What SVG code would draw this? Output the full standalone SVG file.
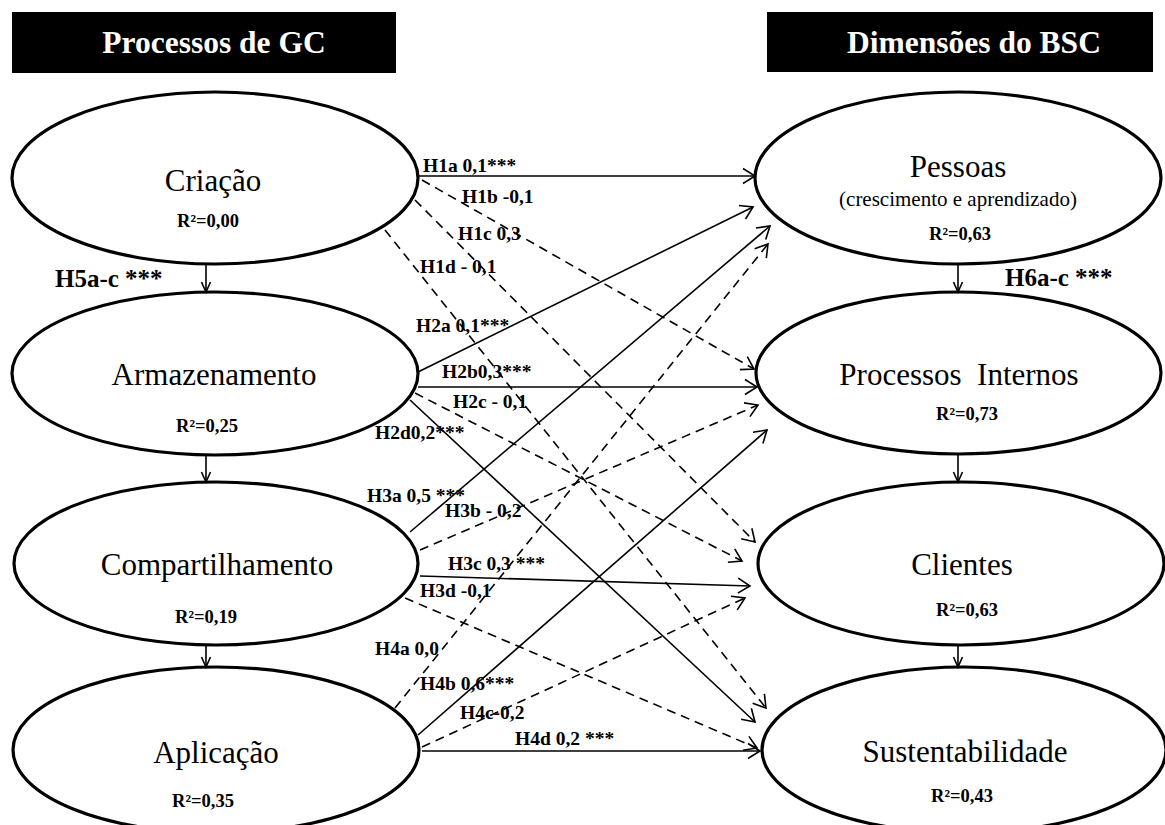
<svg xmlns="http://www.w3.org/2000/svg" width="1165" height="825" viewBox="0 0 1165 825">
  <style>
    text { font-family: "Liberation Serif", "Times New Roman", serif; fill: #000; }
    .head { fill: #000; }
    .head-t { font-size: 31.5px; font-weight: bold; fill: #fff; text-anchor: middle; }
    .node { fill: #fff; stroke: #000; stroke-width: 3.2; }
    .name { font-size: 31px; text-anchor: middle; }
    .sub { font-size: 21px; text-anchor: middle; }
    .r2 { font-size: 18.5px; font-weight: bold; text-anchor: middle; }
    .lbl { font-size: 19.5px; font-weight: bold; }
    .big { font-size: 25px; font-weight: bold; }
    .edge { fill: none; stroke: #000; stroke-width: 1.6; marker-end: url(#arrow); }
    .dash { stroke-dasharray: 9 6; }
    .chain { fill: none; stroke: #000; stroke-width: 1.6; marker-end: url(#small); }
  </style>
  <defs>
    <marker id="arrow" markerUnits="userSpaceOnUse" markerWidth="16" markerHeight="18" refX="12" refY="7.5" orient="auto" overflow="visible">
      <path d="M0,0 L12,7.5 L0,15" fill="none" stroke="#000" stroke-width="1.6"/>
    </marker>
    <marker id="small" markerUnits="userSpaceOnUse" markerWidth="12" markerHeight="12" refX="10" refY="4.5" orient="auto" overflow="visible">
      <path d="M0,0 L10,4.5 L0,9" fill="none" stroke="#000" stroke-width="1.6"/>
    </marker>
  </defs>

  <rect width="1165" height="825" fill="#fff"/>

  <!-- column headers -->
  <g id="header-gc">
    <rect class="head" x="12" y="12" width="384" height="61"/>
    <text class="head-t" x="214" y="53">Processos de GC</text>
  </g>
  <g id="header-bsc">
    <rect class="head" x="767" y="12" width="386" height="60"/>
    <text class="head-t" x="974" y="53">Dimensões do BSC</text>
  </g>

  <!-- knowledge management processes -->
  <g id="criacao">
    <ellipse class="node" cx="215" cy="178" rx="203" ry="86"/>
    <text class="name" x="213" y="191">Criação</text>
    <text class="r2" x="208" y="227">R²=0,00</text>
  </g>
  <g id="armazenamento">
    <ellipse class="node" cx="215" cy="373.5" rx="203" ry="81.5"/>
    <text class="name" x="214" y="385">Armazenamento</text>
    <text class="r2" x="207" y="432">R²=0,25</text>
  </g>
  <g id="compartilhamento">
    <ellipse class="node" cx="216" cy="563.5" rx="202" ry="81.5"/>
    <text class="name" x="217" y="575">Compartilhamento</text>
    <text class="r2" x="206" y="623">R²=0,19</text>
  </g>
  <g id="aplicacao">
    <ellipse class="node" cx="216" cy="750" rx="203" ry="83"/>
    <text class="name" x="216" y="763">Aplicação</text>
    <text class="r2" x="203" y="807">R²=0,35</text>
  </g>

  <!-- BSC dimensions -->
  <g id="pessoas">
    <ellipse class="node" cx="958" cy="178" rx="203" ry="86"/>
    <text class="name" x="958" y="177">Pessoas</text>
    <text class="sub" x="958" y="206">(crescimento e aprendizado)</text>
    <text class="r2" x="960" y="240">R²=0,63</text>
  </g>
  <g id="processos-internos">
    <ellipse class="node" cx="958.5" cy="373" rx="202.5" ry="81"/>
    <text class="name" x="959" y="385" xml:space="preserve">Processos  Internos</text>
    <text class="r2" x="967" y="420">R²=0,73</text>
  </g>
  <g id="clientes">
    <ellipse class="node" cx="961" cy="563.5" rx="203" ry="81.5"/>
    <text class="name" x="962" y="575">Clientes</text>
    <text class="r2" x="967" y="616">R²=0,63</text>
  </g>
  <g id="sustentabilidade">
    <ellipse class="node" cx="964" cy="750" rx="202" ry="83"/>
    <text class="name" x="965" y="762">Sustentabilidade</text>
    <text class="r2" x="962" y="802">R²=0,43</text>
  </g>

  <!-- paths between constructs -->
  <g id="connectors">
    <!-- sequence within each column -->
    <line class="chain" x1="206" y1="264" x2="206" y2="292"/>
    <line class="chain" x1="206" y1="455" x2="206" y2="482"/>
    <line class="chain" x1="206" y1="645" x2="206" y2="667"/>
    <line class="chain" x1="958" y1="264" x2="958" y2="292"/>
    <line class="chain" x1="958" y1="454" x2="958" y2="482"/>
    <line class="chain" x1="958" y1="645" x2="958" y2="667"/>

    <!-- H1: Criação -->
    <line class="edge" x1="418" y1="176" x2="755" y2="176"/>
    <line class="edge dash" x1="422" y1="180" x2="754" y2="369"/>
    <line class="edge dash" x1="415" y1="200" x2="755" y2="542"/>
    <line class="edge dash" x1="385" y1="230" x2="766" y2="708"/>

    <!-- H2: Armazenamento -->
    <line class="edge" x1="418" y1="372" x2="753" y2="207"/>
    <line class="edge" x1="418" y1="387" x2="757" y2="387"/>
    <line class="edge dash" x1="415" y1="393" x2="742" y2="561"/>
    <line class="edge" x1="410" y1="400" x2="755" y2="722"/>

    <!-- H3: Compartilhamento -->
    <line class="edge" x1="410" y1="532" x2="770" y2="226"/>
    <line class="edge dash" x1="420" y1="550" x2="758" y2="405"/>
    <line class="edge" x1="420" y1="576" x2="750" y2="586"/>
    <line class="edge dash" x1="405" y1="598" x2="757" y2="748"/>

    <!-- H4: Aplicação -->
    <line class="edge dash" x1="395" y1="708" x2="768" y2="244"/>
    <line class="edge" x1="418" y1="735" x2="767" y2="430"/>
    <line class="edge dash" x1="422" y1="747" x2="745" y2="598"/>
    <line class="edge" x1="422" y1="751" x2="760" y2="751"/>
  </g>

  <!-- path coefficients -->
  <g id="edge-labels">
    <text class="big" x="55" y="287">H5a-c ***</text>
    <text class="big" x="1005" y="286">H6a-c ***</text>

    <text class="lbl" x="423" y="172">H1a 0,1***</text>
    <text class="lbl" x="462" y="203">H1b -0,1</text>
    <text class="lbl" x="458" y="240">H1c 0,3</text>
    <text class="lbl" x="420" y="273">H1d - 0,1</text>

    <text class="lbl" x="416" y="332">H2a 0,1***</text>
    <text class="lbl" x="442" y="378">H2b0,3***</text>
    <text class="lbl" x="453" y="408">H2c - 0,1</text>
    <text class="lbl" x="375" y="439">H2d0,2***</text>

    <text class="lbl" x="367" y="502">H3a 0,5 ***</text>
    <text class="lbl" x="445" y="517">H3b - 0,2</text>
    <text class="lbl" x="448" y="570">H3c 0,3 ***</text>
    <text class="lbl" x="420" y="597">H3d -0,1</text>

    <text class="lbl" x="375" y="655">H4a 0,0</text>
    <text class="lbl" x="420" y="690">H4b 0,6***</text>
    <text class="lbl" x="460" y="719">H4c-0,2</text>
    <text class="lbl" x="515" y="745">H4d 0,2 ***</text>
  </g>
</svg>
